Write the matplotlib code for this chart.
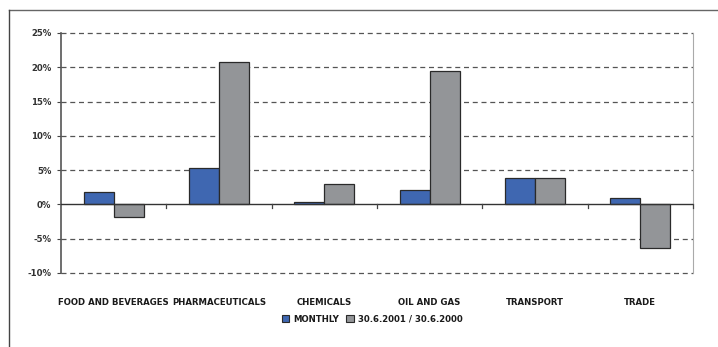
import numpy as np
import matplotlib
matplotlib.use("Agg")
import matplotlib.pyplot as plt
from matplotlib.lines import Line2D
from matplotlib.patches import Patch

plt.rcParams['font.family'] = ['DejaVu Sans']
plt.rcParams['font.stretch'] = 'condensed'

# Data (in percent)
sectors = ["FOOD AND BEVERAGES", "PHARMACEUTICALS", "CHEMICALS", "OIL AND GAS", "TRANSPORT", "TRADE"]
monthly = [1.8, 5.25, 0.3, 2.1, 3.8, 1.0]
yearly = [-1.8, 20.8, 3.0, 19.5, 3.8, -6.4]
series_names = ["MONTHLY", "30.6.2001 / 30.6.2000"]
yticks = [-10, -5, 0, 5, 10, 15, 20, 25]

blue = "#3f67b1"
grey = "#939598"
edge = "#2a2a2a"
fsize = 6.8

fig = plt.figure(figsize=(7.18, 3.47), dpi=100)
ax = fig.add_axes([61 / 718, 1 - 273 / 347, 632 / 718, 240 / 347])

x = np.arange(len(sectors))
w = 0.285
ax.bar(x - w / 2, monthly, w, color=blue, edgecolor=edge, linewidth=0.9, zorder=3)
ax.bar(x + w / 2, yearly, w, color=grey, edgecolor=edge, linewidth=0.9, zorder=3)

ax.set_xlim(-0.5, len(sectors) - 0.5)
ax.set_ylim(-10, 25)
ax.set_yticks(yticks)
ax.set_yticklabels([f"{v}%" for v in yticks], fontsize=fsize, fontweight='bold', color="#333333")

# dashed grid
for v in yticks:
    if v != 0:
        ax.axhline(v, color="#555555", linestyle=(0, (4, 3)), linewidth=0.9, zorder=1, clip_on=False)
ax.axhline(0, color="#333333", linewidth=1.0, zorder=4)

# category boundary ticks on the zero line
for b in np.arange(0.5, len(sectors), 1.0):
    ax.plot([b, b], [0, -0.5], color="#444444", linewidth=0.9, zorder=4, clip_on=False)

ax.set_xticks(x)
ax.set_xticklabels(sectors, fontsize=fsize, fontweight='bold', color="#1a1a1a")
ax.tick_params(axis='x', length=0, pad=18)
ax.tick_params(axis='y', length=3, width=0.8, color="#444444", pad=4)

for s in ["top", "bottom"]:
    ax.spines[s].set_visible(False)
ax.spines["left"].set_color("#555555")
ax.spines["left"].set_linewidth(1.2)
ax.spines["right"].set_color("#aaaaaa")
ax.spines["right"].set_linewidth(0.8)

handles = [Patch(facecolor=blue, edgecolor=edge, linewidth=0.8),
           Patch(facecolor=grey, edgecolor=edge, linewidth=0.8)]
leg = fig.legend(handles, series_names, loc="center", bbox_to_anchor=(372 / 718, 1 - 319 / 347),
                 ncol=2, frameon=False, fontsize=fsize, handlelength=0.8, handleheight=0.8,
                 handletextpad=0.4, columnspacing=0.8)
for t in leg.get_texts():
    t.set_fontweight('bold')
    t.set_color("#1a1a1a")

# outer frame (top and left edges)
fig.add_artist(Line2D([9 / 718, 1], [1 - 10 / 347, 1 - 10 / 347], color="#666666", linewidth=1.0,
                      transform=fig.transFigure))
fig.add_artist(Line2D([9 / 718, 9 / 718], [0, 1 - 10 / 347], color="#444444", linewidth=1.0,
                      transform=fig.transFigure))

fig.savefig("out.png", dpi=100)
